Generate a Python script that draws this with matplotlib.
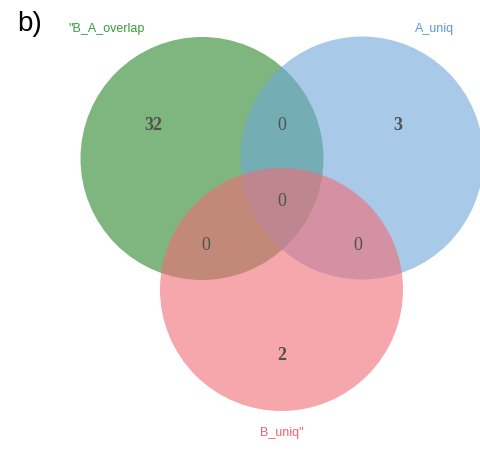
import numpy as np
import matplotlib as mpl
mpl.use('Agg')
import matplotlib.pyplot as plt
from matplotlib.patches import Circle

# set names and region counts
set_names = ['"B_A_overlap', 'A_uniq', 'B_uniq"']
set_colors = ['#2a8428', '#6ea8d9', '#f06c76']
label_colors = ['#3a9a3a', '#5a9ad6', '#f0606c']
# regions: only green, green&blue, only blue, all, green&red, blue&red, only red
region_counts = [32, 0, 3, 0, 0, 0, 2]
region_bold = [True, False, True, False, False, False, True]

# layout (pixel coords, y down)
centers = [(202, 158.5), (362, 158), (281.5, 289.5)]
radius = 121.5
region_pos = [(153, 126), (282, 126), (398, 126), (282, 201), (206, 246), (358, 246), (282, 356)]
label_pos = [(68, 29, 'left'), (435, 29, 'center'), (282, 433, 'center')]

W, H = 481, 450
fig = plt.figure(figsize=(W / 100, H / 100), dpi=100)
ax = fig.add_axes([0, 0, 1, 1])
ax.set_xlim(0, W)
ax.set_ylim(H, 0)
ax.axis('off')

for (cx, cy), col in zip(centers, set_colors):
    ax.add_patch(Circle((cx, cy), radius, facecolor=col, edgecolor='none', alpha=0.6))

for (x, y), n, b in zip(region_pos, region_counts, region_bold):
    ax.text(x, y, str(n), ha='center', va='center', fontsize=13,
            family='Liberation Serif', color='#505050',
            fontweight='bold' if b else 'normal')

for (x, y, ha), name, col in zip(label_pos, set_names, label_colors):
    ax.text(x, y, name, ha=ha, va='center', fontsize=9,
            family='Liberation Sans', color=col)

ax.text(17, 24, 'b)', ha='left', va='center', fontsize=20,
        family='Liberation Sans', color='black')

fig.savefig('out.png', dpi=100)
